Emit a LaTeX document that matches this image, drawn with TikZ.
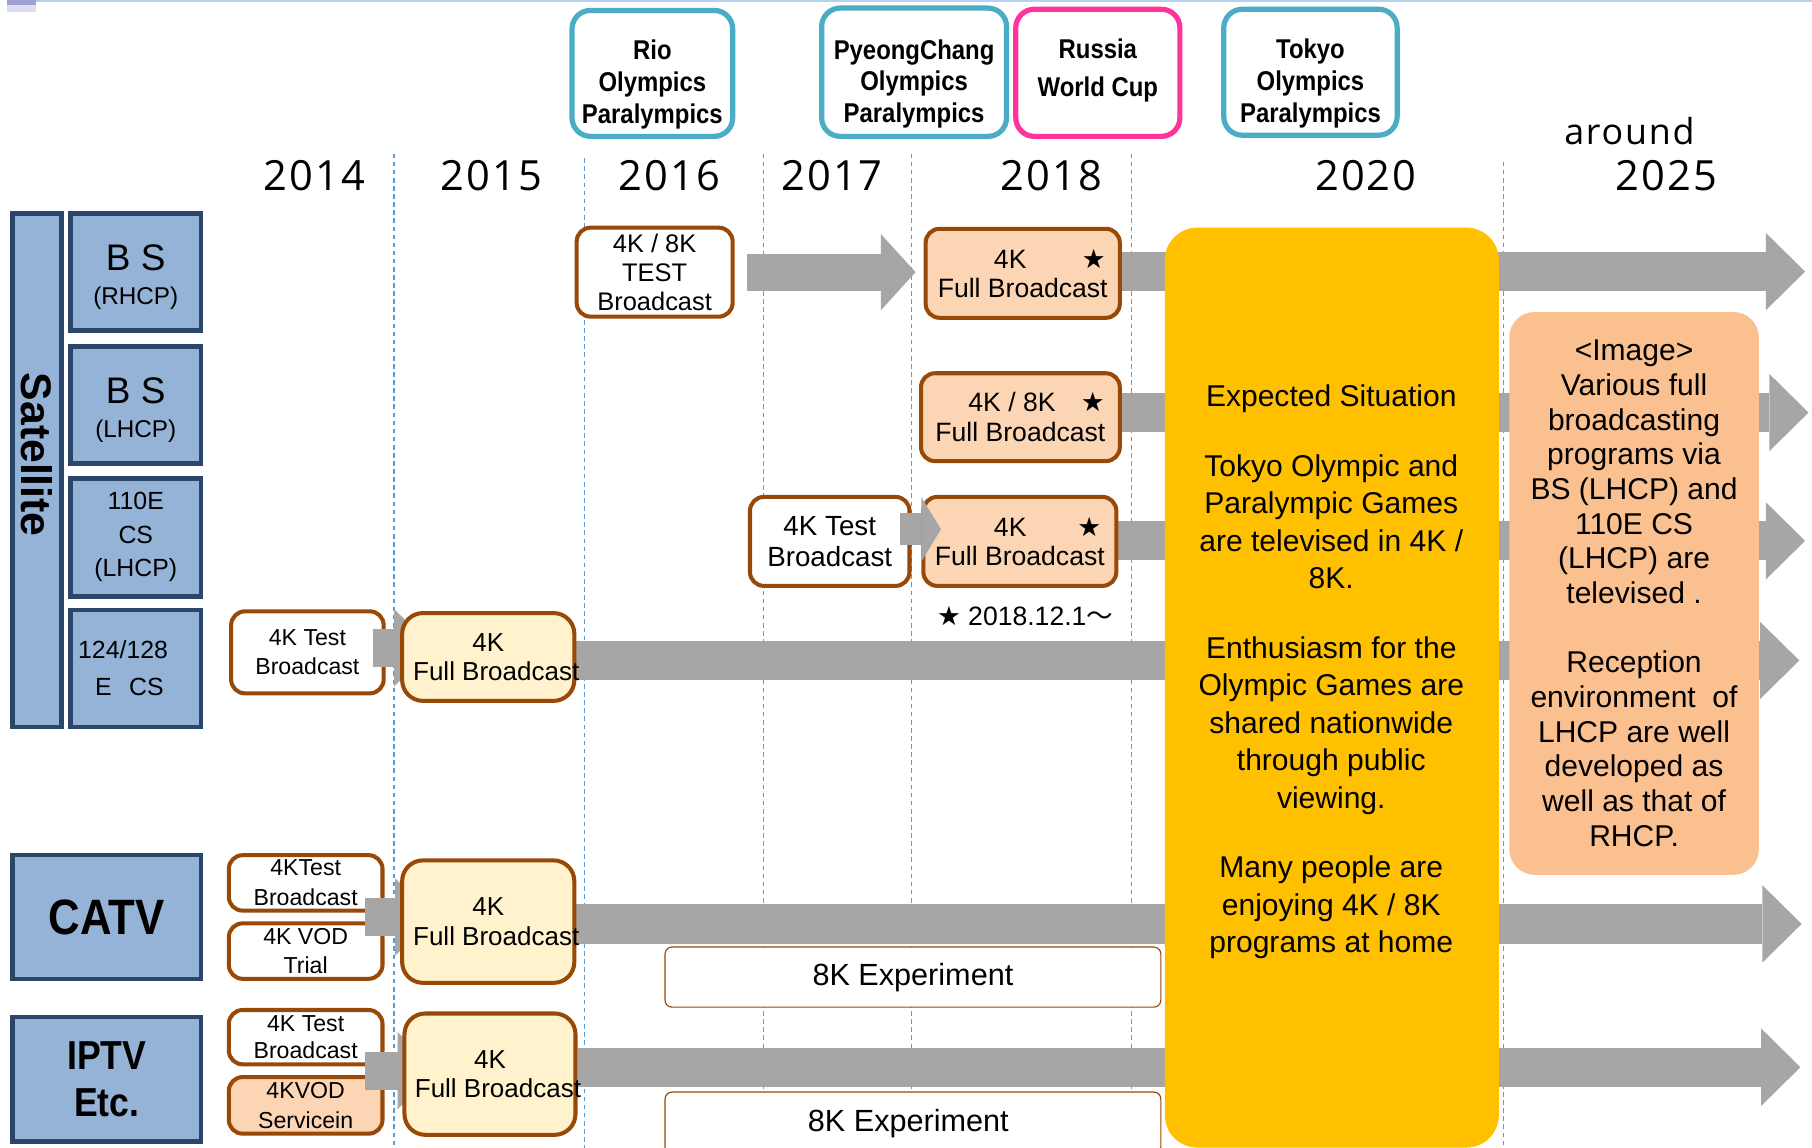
\documentclass[tikz,border=0pt]{standalone}
\usepackage{fontspec}
\setmainfont{Liberation Sans}
\newfontfamily\condfont[FakeStretch=0.88]{Liberation Sans}
\newfontfamily\yearfont[LetterSpace=5]{Open Sans}
\newfontfamily\symfont{DejaVu Sans}
\newfontfamily\cjkfont{Noto Sans CJK JP}
\usetikzlibrary{arrows.meta,positioning,calc,backgrounds}

\definecolor{hdrfill}{RGB}{149,179,215}
\definecolor{hdrline}{RGB}{44,70,105}
\definecolor{brownline}{RGB}{152,72,7}
\definecolor{peach}{RGB}{252,213,181}
\definecolor{cream}{RGB}{255,242,204}
\definecolor{gold}{RGB}{255,192,0}
\definecolor{apricot}{RGB}{250,192,144}
\definecolor{bargrey}{RGB}{166,166,166}
\definecolor{evtblue}{RGB}{75,172,198}
\definecolor{evtpink}{RGB}{255,51,153}
\definecolor{gridblue}{RGB}{91,155,213}
\definecolor{topline}{RGB}{180,210,240}
\definecolor{lavender}{RGB}{222,222,242}
\definecolor{lavenderdark}{RGB}{160,160,210}

\newcommand{\fsz}[2]{\fontsize{#1}{#2}\selectfont}
\newcommand{\bstar}{{\symfont ★}}
\newcommand{\fullbc}{\makebox[130pt][l]{Full Broadcast}}

\begin{document}
\begin{tikzpicture}[x=1pt, y=-1pt,
            HDR/.style={rectangle, draw=hdrline, fill=hdrfill, line width=4pt, inner sep=0pt, align=center, font=\fsz{21.5}{29}},
            EVT/.style={rectangle, rounded corners=16pt, draw=evtblue, line width=4.5pt, fill=white},
            EVTTXT/.style={align=center, inner sep=0pt, font=\condfont\bfseries\fsz{23.5}{27.5}},
            TEST/.style={rectangle, rounded corners=12pt, draw=brownline, line width=3.5pt, fill=white, align=center, inner sep=0pt, font=\fsz{20}{25}},
            FULL/.style={TEST, fill=peach, font=\fsz{23}{25.5}},
            EARLY/.style={TEST, fill=cream, rounded corners=18pt, font=\fsz{22.5}{25.5}},
            EXPER/.style={rectangle, rounded corners=6pt, draw=brownline, line width=1pt, fill=white, inner sep=0pt, font=\fsz{26.5}{28}},
            YEAR/.style={inner sep=0pt, font=\yearfont\fsz{36}{40}},
            greybar/.style={draw=bargrey, line width=34pt, -{Triangle[length=34pt, width=67pt, line width=0pt]}},
            smallbar/.style={draw=bargrey, line width=28pt, -{Triangle[length=17pt, width=56pt, line width=0pt]}},
            yeargrid/.style={draw=gridblue, line width=1pt, dash pattern=on 4pt off 3pt},
        ]
        \useasboundingbox (0,0) rectangle (1568,993);

        % slide remnants on the top edge
        \fill[topline] (30,0) rectangle (1568,1.5);
        \fill[lavender] (6,0) rectangle (31,10);
        \fill[lavenderdark] (6,0) rectangle (31,4);

        % years
        \node[YEAR] (y2014) at (272,152) {2014};
        \node[YEAR] (y2015) at (425,152) {2015};
        \node[YEAR] (y2016) at (579,152) {2016};
        \node[YEAR] (y2017) at (720,152) {2017};
        \node[YEAR] (y2018) at (910,152) {2018};
        \node[YEAR] (y2020) at (1182,152) {2020};
        \node[YEAR, font=\yearfont\fsz{31}{36}] (around) at (1410,113) {around};
        \node[YEAR] (y2025) at (1442,152) {2025};

        % events
        \node[EVT, minimum width=139, minimum height=109] (rio) at (564.5,63.5) {};
        \node[EVT, minimum width=160, minimum height=111] (pyeong) at (791,62.5) {};
        \node[EVT, draw=evtpink, minimum width=142, minimum height=110] (russia) at (950,63) {};
        \node[EVT, minimum width=150, minimum height=109] (tokyo) at (1134,62.5) {};
        \node[EVTTXT] (rioT) at ([yshift=-9.5]rio.center) {Rio\\Olympics\\Paralympics};
        \node[EVTTXT] (pyeongT) at ([yshift=-10]pyeong.center) {PyeongChang\\Olympics\\Paralympics};
        \node[EVTTXT] (russiaT) at ([yshift=2]russia.center) {Russia\\[5.5pt]World Cup};
        \node[EVTTXT] (tokyoT) at ([yshift=-9.5]tokyo.center) {Tokyo\\Olympics\\Paralympics};

        % media
        \node[HDR, minimum width=42, minimum height=444] (sat) at (32,407) {};
        \node[rotate=-90, inner sep=0pt, font=\bfseries\fsz{37}{40}] (satT) at ([yshift=13.5]sat.center) {Satellite};
        \node[HDR, minimum width=113, minimum height=101, font=\fsz{21}{29}] (bsR) at (117.5,235.5) {{\fsz{32}{29}\rule{0pt}{31pt}B S}\\(RHCP)};
        \node[HDR, minimum width=113, minimum height=101, font=\fsz{21}{29}] (bsL) at (117.5,350.5) {{\fsz{32}{29}\rule{0pt}{31pt}B S}\\(LHCP)};
        \node[HDR, minimum width=113, minimum height=102] (cs110) at (117.5,465) {110E\\CS\\(LHCP)};
        \node[HDR, minimum width=113, minimum height=101, font=\fsz{21.5}{32}] (cs124) at (117.5,578.5) {124/128\hspace*{22pt}\\E\hspace{15pt}CS\hspace*{11pt}};
        \node[HDR, minimum width=163, minimum height=107, font=\condfont\bfseries\fsz{43}{46}] (catv) at (92.5,793.5) {CATV};
        \node[HDR, minimum width=163, minimum height=108, font=\condfont\bfseries\fsz{35}{40}] (iptv) at (92.5,934) {IPTV\\Etc.};

        % BS (RHCP)
        \node[TEST, minimum width=135, minimum height=77, font=\fsz{22}{25}] (test1) at (566.5,235.5) {4K / 8K\\TEST\\Broadcast};
        \node[FULL, minimum width=168, minimum height=77] (full1) at (885,236.5) {\hspace*{47pt}4K\hspace{48pt}\bstar\\Full Broadcast};
        \draw[greybar, line width=32pt, -{Triangle[length=30pt, width=66pt, line width=0pt]}, shorten <=11pt, shorten >=7pt] (test1.east) -- (test1.east -| full1.west);

        % BS (LHCP)
        \node[FULL, minimum width=172, minimum height=76] (full2) at (883,361) {\hspace*{28pt}4K / 8K\hspace{22pt}\bstar\\Full Broadcast};

        % 110E CS
        \node[TEST, minimum width=138, minimum height=77, font=\fsz{24}{27}] (test3) at (718,468.5) {4K Test\\Broadcast};
        \node[FULL, minimum width=167, minimum height=77] (full3) at (882.5,468.5) {\hspace*{48pt}4K\hspace{44pt}\bstar\\Full Broadcast};
        \draw[smallbar, shorten <=-10pt, shorten >=-17pt] ([yshift=10.5]test3.east) -- ([yshift=10.5]test3.east -| full3.west);
        \node[inner sep=0pt, font=\fsz{23}{26}] (since) at (887,533) {\bstar\ 2018.12.1{\cjkfont ～}};

        % 124/128 E CS
        \node[TEST, minimum width=132, minimum height=71] (test4) at (266,564.5) {4K Test\\Broadcast};
        \coordinate (in4) at (375,560.5);
        \draw[greybar, line width=33pt, shorten <=-11pt] ([yshift=4]test4.east) -- (in4);
        \node[EARLY, minimum width=149, minimum height=76] (full4) at (422.5,568.5) {4K\\\fullbc};

        % CATV
        \node[TEST, minimum width=133, minimum height=48, font=\fsz{20}{26}] (catvA) at (264.5,764) {4KTest\\Broadcast};
        \node[TEST, minimum width=133, minimum height=48, font=\fsz{20}{25}] (catvB) at (264.5,823) {4K VOD\\Trial};
        \coordinate (catvMid) at ($(catvA.south east)!0.5!(catvB.north east)$);
        \coordinate (inC) at (376,793.5);
        \draw[greybar, line width=33pt, shorten <=-17pt] (catvMid) -- (inC);
        \node[EARLY, minimum width=149, minimum height=106] (catvFull) at (422.5,797.5) {4K\\\fullbc};
        \node[EXPER, minimum width=429, minimum height=52] (exp1) at (790,845.5) {8K Experiment};

        % IPTV
        \node[TEST, minimum width=133, minimum height=47, font=\fsz{20}{24}] (iptvA) at (264.5,897.5) {4K Test\\Broadcast};
        \node[TEST, fill=peach, minimum width=133, minimum height=49, font=\fsz{20}{26}] (iptvB) at (264.5,956.5) {4KVOD\\Servicein};
        \coordinate (iptvMid) at ($(iptvA.south east)!0.5!(iptvB.north east)$);
        \coordinate (inI) at (378,926.5);
        \draw[greybar, line width=33pt, shorten <=-17pt] (iptvMid) -- (inI);
        \node[EARLY, minimum width=148, minimum height=105] (iptvFull) at (424,929.5) {4K\\\fullbc};
        \node[EXPER, minimum width=429, minimum height=54] (exp2) at (790,972) {\hspace*{-8pt}8K Experiment};

        % arrow ends
        \coordinate (end1) at (1562,235);
        \coordinate (end2) at (1565,357);
        \coordinate (end3) at (1562,468);
        \coordinate (end4) at (1557,571.5);
        \coordinate (endC) at (1559,799.5);
        \coordinate (endI) at (1558,923.5);

        \begin{pgfonlayer}{background}
            \foreach \gx/\gy in {341/133, 506/137, 661/133, 789/133, 979/133, 1301/140}
                \draw[yeargrid] (\gx,\gy) -- (\gx,993);
            \draw[greybar] (full1.east |- end1) -- (end1);
            \draw[greybar] (full2.east |- end2) -- (end2);
            \draw[greybar] (full3.east |- end3) -- (end3);
            \draw[greybar] (full4.east |- end4) -- (end4);
            \draw[greybar] (catvFull.east |- endC) -- (endC);
            \draw[greybar] (iptvFull.east |- endI) -- (endI);
        \end{pgfonlayer}

        % outlook
        \node[rectangle, rounded corners=28pt, fill=gold, minimum width=289, minimum height=796] (situ) at (1152.5,595) {};
        \node[anchor=north, inner sep=0pt, align=center, font=\fsz{26}{32.5}] (situT) at (1152,333) {Expected Situation\\[27.5pt]Tokyo Olympic and\\Paralympic Games\\are televised in 4K /\\8K.\\[27.5pt]Enthusiasm for the\\Olympic Games are\\shared nationwide\\through public\\viewing.\\[27.5pt]Many people are\\enjoying 4K / 8K\\programs at home};
        \node[rectangle, rounded corners=22pt, fill=apricot, minimum width=216, minimum height=487, inner sep=0pt, align=center, font=\fsz{26}{30}] (imagebox) at (1414,513.5) {<Image>\\Various full\\broadcasting\\programs via\\BS (LHCP) and\\110E CS\\(LHCP) are\\televised .\\[30pt]Reception\\environment~ of\\LHCP are well\\developed as\\well as that of\\RHCP.};

    \end{tikzpicture}
\end{document}
